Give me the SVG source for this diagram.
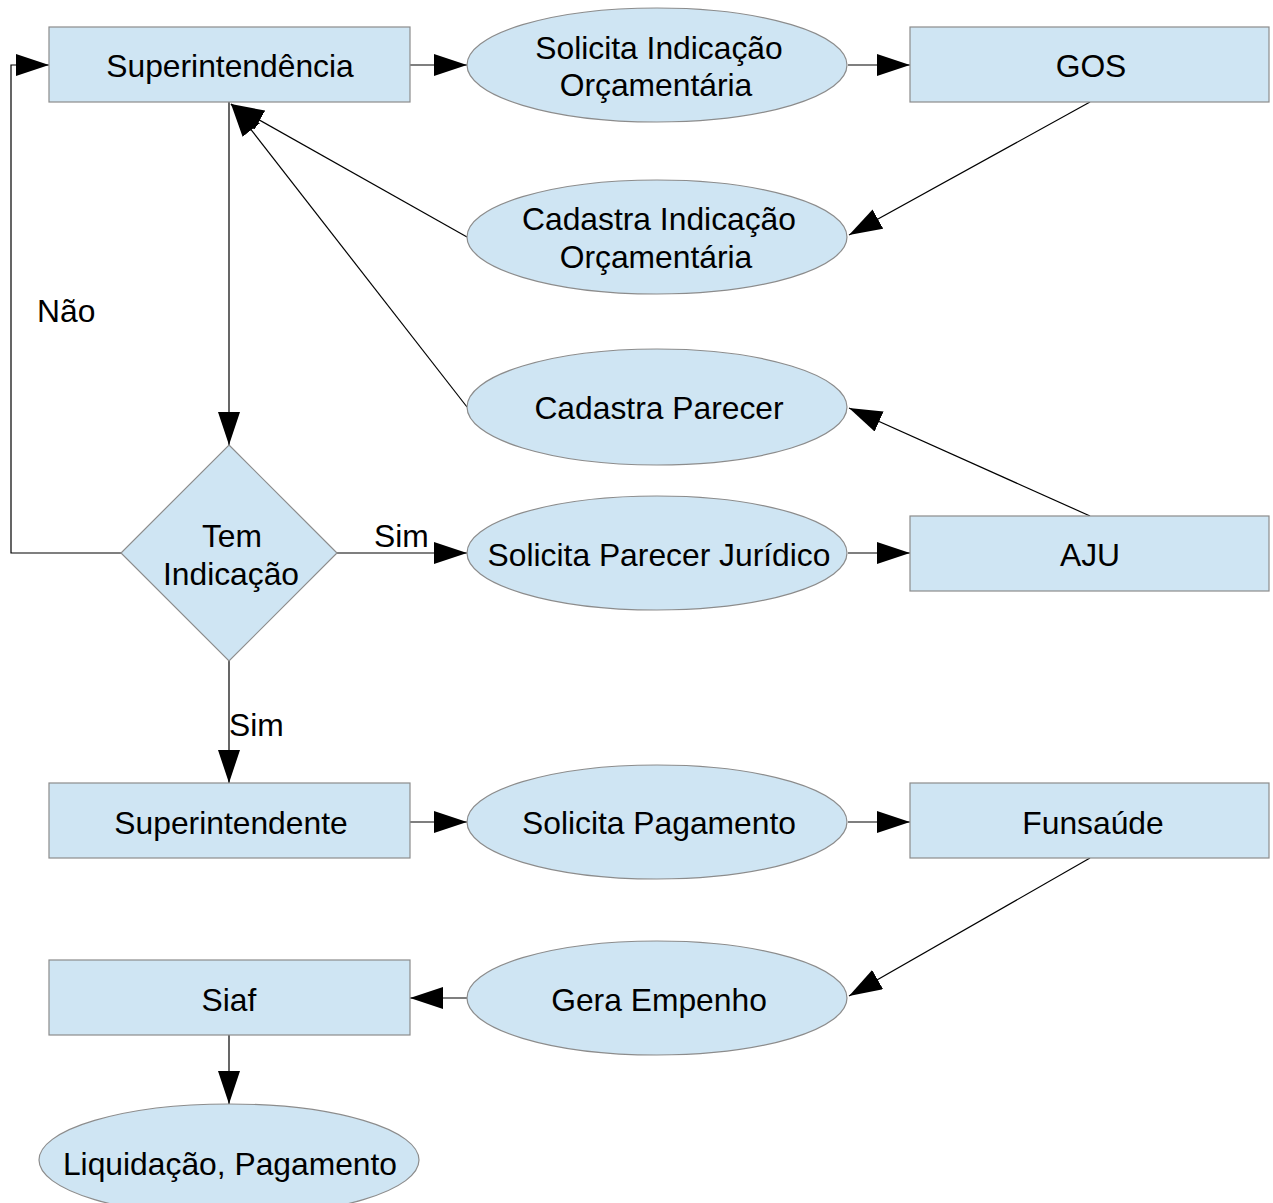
<svg xmlns="http://www.w3.org/2000/svg" width="1273" height="1203" viewBox="0 0 1273 1203">
<style>
.n{fill:#cfe5f3;stroke:#8c8c8c;stroke-width:1.2}
.t{font-family:"Liberation Sans",Arial,sans-serif;font-size:31.8px;fill:#000;text-anchor:middle}
.l{font-family:"Liberation Sans",Arial,sans-serif;font-size:31.8px;fill:#000}
.c{fill:none;stroke:#000;stroke-width:1.2}
</style>
<defs>
<marker id="a" markerUnits="userSpaceOnUse" markerWidth="34" markerHeight="22" refX="33" refY="11" orient="auto">
<path d="M0,0 L33,11 L0,22 Z" fill="#000"/>
</marker>
</defs>
<rect width="1273" height="1203" fill="#fff"/>
<g id="connectors">
<line class="c" x1="410" y1="65" x2="467" y2="65" marker-end="url(#a)"/>
<line class="c" x1="848" y1="65" x2="910" y2="65" marker-end="url(#a)"/>
<line class="c" x1="1090" y1="102" x2="849" y2="235" marker-end="url(#a)"/>
<line class="c" x1="467" y1="237" x2="231" y2="104" marker-end="url(#a)"/>
<line class="c" x1="467" y1="407" x2="231" y2="104" marker-end="url(#a)"/>
<line class="c" x1="1090" y1="516" x2="849" y2="408" marker-end="url(#a)"/>
<line class="c" x1="229" y1="102" x2="229" y2="445" marker-end="url(#a)"/>
<polyline class="c" points="121,553 11,553 11,65 49,65" marker-end="url(#a)"/>
<line class="c" x1="337" y1="553" x2="467" y2="553" marker-end="url(#a)"/>
<line class="c" x1="848" y1="553" x2="910" y2="553" marker-end="url(#a)"/>
<line class="c" x1="229" y1="661" x2="229" y2="783" marker-end="url(#a)"/>
<line class="c" x1="410" y1="822" x2="467" y2="822" marker-end="url(#a)"/>
<line class="c" x1="848" y1="822" x2="910" y2="822" marker-end="url(#a)"/>
<line class="c" x1="1090" y1="858" x2="849" y2="996" marker-end="url(#a)"/>
<line class="c" x1="467" y1="998" x2="410" y2="998" marker-end="url(#a)"/>
<line class="c" x1="229" y1="1035" x2="229" y2="1104" marker-end="url(#a)"/>
<text class="l" x="37" y="322">Não</text>
<text class="l" x="374" y="547">Sim</text>
<text class="l" x="229" y="736">Sim</text>
</g>
<g id="superintendencia"><rect class="n" x="49" y="27" width="361" height="75"/><text class="t" x="230" y="77">Superintendência</text></g>
<g id="solicita-indicacao"><ellipse class="n" cx="657" cy="65" rx="190" ry="57"/><text class="t" x="659" y="59">Solicita Indicação</text><text class="t" x="656" y="96">Orçamentária</text></g>
<g id="gos"><rect class="n" x="910" y="27" width="359" height="75"/><text class="t" x="1091" y="77">GOS</text></g>
<g id="cadastra-indicacao"><ellipse class="n" cx="657" cy="237" rx="190" ry="57"/><text class="t" x="659" y="230">Cadastra Indicação</text><text class="t" x="656" y="268">Orçamentária</text></g>
<g id="cadastra-parecer"><ellipse class="n" cx="657" cy="407" rx="190" ry="58"/><text class="t" x="659" y="419">Cadastra Parecer</text></g>
<g id="tem-indicacao"><polygon class="n" points="229,445 337,553 229,661 121,553"/><text class="t" x="232" y="547">Tem</text><text class="t" x="231" y="585">Indicação</text></g>
<g id="solicita-parecer"><ellipse class="n" cx="657" cy="553" rx="190" ry="57"/><text class="t" x="659" y="566">Solicita Parecer Jurídico</text></g>
<g id="aju"><rect class="n" x="910" y="516" width="359" height="75"/><text class="t" x="1090" y="566">AJU</text></g>
<g id="superintendente"><rect class="n" x="49" y="783" width="361" height="75"/><text class="t" x="231" y="834">Superintendente</text></g>
<g id="solicita-pagamento"><ellipse class="n" cx="657" cy="822" rx="190" ry="57"/><text class="t" x="659" y="834">Solicita Pagamento</text></g>
<g id="funsaude"><rect class="n" x="910" y="783" width="359" height="75"/><text class="t" x="1093" y="834">Funsaúde</text></g>
<g id="siaf"><rect class="n" x="49" y="960" width="361" height="75"/><text class="t" x="229" y="1011">Siaf</text></g>
<g id="gera-empenho"><ellipse class="n" cx="657" cy="998" rx="190" ry="57"/><text class="t" x="659" y="1011">Gera Empenho</text></g>
<g id="liquidacao"><ellipse class="n" cx="229" cy="1160" rx="190" ry="56"/><text class="t" x="230" y="1175">Liquidação, Pagamento</text></g>
</svg>
